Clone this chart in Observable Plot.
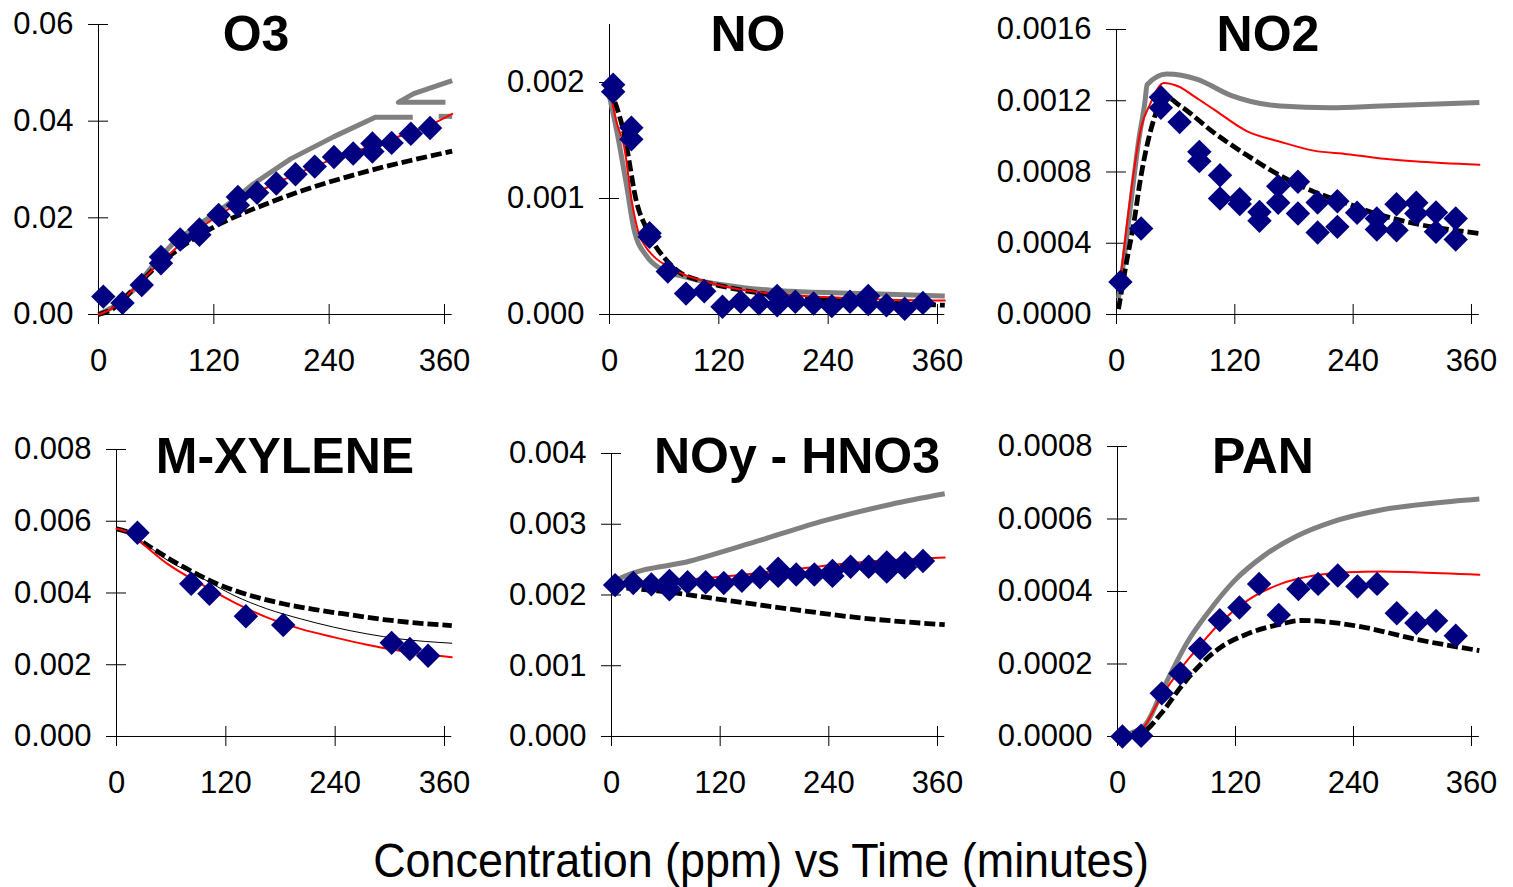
<!DOCTYPE html>
<html><head><meta charset="utf-8">
<script src="https://cdn.jsdelivr.net/npm/d3@7"></script>
<script src="https://cdn.jsdelivr.net/npm/@observablehq/plot@0.6"></script>
<style>
html,body{margin:0;padding:0;background:#fff;}
#wrap{position:relative;width:1513px;height:887px;overflow:hidden;font-family:"Liberation Sans",Arial,sans-serif;color:#000;}
.panel{position:absolute;}
.panel svg{overflow:visible;max-width:none;background:transparent;}
.title{position:absolute;font-weight:bold;font-size:50px;line-height:50px;white-space:nowrap;transform:translateX(-50%);}
.caption{position:absolute;font-size:48px;line-height:48px;white-space:nowrap;transform:translateX(-50%) scaleX(0.935);}
</style></head>
<body><div id="wrap"></div>
<script>
// ---------- tick values ----------
const xTicks = [0, 120, 240, 360];
const xMax = 368;
const o3Ticks = [0, 0.02, 0.04, 0.06];
const noTicks = [0, 0.001, 0.002];
const no2Ticks = [0, 0.0004, 0.0008, 0.0012, 0.0016];
const mxTicks = [0, 0.002, 0.004, 0.006, 0.008];
const noyTicks = [0, 0.001, 0.002, 0.003, 0.004];
const panTicks = [0, 0.0002, 0.0004, 0.0006, 0.0008];

// ---------- O3 ----------
const o3Obs = [[5,0.0037],[25,0.0024],[45,0.0061],[65,0.0119],[65,0.0106],[85,0.0155],[105,0.0176],[105,0.0165],[125,0.0206],[145,0.0243],[145,0.0226],[165,0.0252],[185,0.0271],[205,0.0290],[225,0.0306],[245,0.0326],[265,0.0333],[285,0.0354],[285,0.0337],[305,0.0355],[325,0.0374],[345,0.0386]];
const o3Red = [[0,0.0],[10,0.0008],[20,0.0022],[30,0.0040],[40,0.0060],[50,0.0080],[60,0.0100],[70,0.0118],[85,0.0145],[100,0.0170],[125,0.0205],[145,0.0230],[165,0.0252],[185,0.0272],[205,0.0290],[225,0.0307],[245,0.0322],[265,0.0336],[285,0.0349],[305,0.0363],[325,0.0377],[345,0.0392],[368,0.0415]];
const o3Dash = [[0,0],[15,0.0012],[30,0.0040],[45,0.0070],[60,0.0099],[80,0.0130],[100,0.0158],[120,0.0181],[150,0.0209],[180,0.0233],[210,0.0255],[240,0.0274],[270,0.0291],[300,0.0307],[330,0.0321],[368,0.0338]];
const o3GrayA = [[0,0],[15,0.0015],[36,0.0050],[60,0.0110],[78,0.0148],[100,0.0180],[120,0.0207],[140,0.0236],[161,0.0270],[200,0.0322],[245,0.0368],[288,0.0408],[327,0.0408]];
const o3GrayB = [[361,0.0439],[312,0.0439],[328,0.0457],[368,0.0484]];
const o3GrayC = [[354,0.0410],[368,0.0410]];

// ---------- NO ----------
const noObs = [[4,0.00198],[4,0.00192],[24,0.00161],[24,0.00151],[44,0.00070],[44,0.00067],[64,0.00037],[84,0.00018],[104,0.00020],[124,0.000066],[144,0.00011],[164,0.000095],[184,0.00016],[184,0.00008],[204,0.00011],[224,0.000095],[244,0.000072],[264,0.00011],[284,0.00016],[284,0.00009],[304,0.00008],[324,0.00005],[344,0.0001]];
const noRed = [[0,0.00195],[8,0.00165],[16,0.00145],[25,0.00095],[32,0.00070],[40,0.00058],[50,0.00049],[65,0.00041],[80,0.00035],[107,0.00028],[140,0.00022],[180,0.00018],[235,0.00015],[300,0.00013],[368,0.00012]];
const noDash = [[0,0.00195],[16,0.00156],[30,0.00096],[40,0.00075],[49,0.00061],[60,0.00049],[74,0.00038],[100,0.00029],[126,0.00024],[160,0.00019],[199,0.00015],[272,0.00011],[368,0.00008]];
const noGray = [[0,0.00188],[10,0.0015],[19,0.0011],[27,0.00073],[41,0.00050],[57,0.00039],[80,0.00033],[105,0.00028],[130,0.00025],[160,0.00022],[199,0.00020],[280,0.00018],[368,0.00016]];

// ---------- NO2 ----------
const no2Obs = [[4,0.000183],[25,0.000483],[45,0.00122],[45,0.00116],[64,0.00108],[84,0.000913],[84,0.000861],[105,0.000782],[105,0.000651],[125,0.000647],[125,0.00062],[145,0.000576],[145,0.000526],[164,0.00072],[164,0.000627],[184,0.000745],[184,0.000567],[204,0.000629],[204,0.00046],[224,0.000636],[224,0.000492],[244,0.000571],[264,0.000539],[264,0.000477],[284,0.000619],[284,0.000473],[304,0.000627],[304,0.000567],[324,0.000573],[324,0.000464],[344,0.000539],[344,0.000421]];
const no2Red = [[4,0.0002],[7,0.00034],[15,0.0007],[25,0.00105],[34,0.00118],[48,0.0013],[63,0.00128],[80,0.00122],[99,0.00115],[132,0.00103],[166,0.00097],[200,0.00092],[234,0.0009],[268,0.000876],[302,0.00086],[368,0.00084]];
const no2Dash = [[2,0.00003],[11,0.00032],[17.5,0.00051],[24,0.00075],[34.5,0.00103],[50,0.00122],[65,0.00117],[99,0.00102],[132,0.000895],[166,0.00078],[200,0.00069],[234,0.000623],[268,0.000558],[302,0.000511],[368,0.000455]];
const no2Gray = [[2,0.00009],[7,0.000285],[14,0.0006],[22.6,0.00098],[29,0.0012],[31,0.00129],[51,0.00135],[82,0.00132],[116,0.00123],[166,0.00117],[217,0.00116],[268,0.00117],[368,0.00119]];

// ---------- M-XYLENE ----------
const mxObs = [[23,0.00568],[82,0.00426],[102,0.00398],[142,0.00335],[183,0.00311],[302,0.00261],[322,0.00244],[342,0.00225]];
const mxRed = [[0,0.00579],[10,0.00572],[26,0.00542],[56,0.00481],[92,0.00426],[129,0.00374],[165,0.00332],[202,0.0030],[238,0.00277],[275,0.00256],[311,0.00239],[368,0.00221]];
const mxDash = [[0,0.00579],[10,0.00572],[37,0.00528],[74,0.00472],[110,0.00426],[147,0.00393],[183,0.0037],[220,0.00353],[257,0.00339],[293,0.00326],[368,0.00309]];
const mxThin = [[0,0.00579],[10,0.00572],[30,0.0054],[56,0.00491],[92,0.00444],[129,0.00393],[165,0.00356],[202,0.00328],[238,0.00305],[275,0.00286],[311,0.00272],[368,0.0026]];

// ---------- NOy - HNO3 ----------
const noyObs = [[4,0.00214],[24,0.00217],[44,0.00215],[64,0.0022],[64,0.00208],[84,0.00218],[104,0.00218],[124,0.00217],[144,0.0022],[164,0.00225],[184,0.00237],[184,0.00227],[204,0.00229],[224,0.00229],[244,0.00234],[244,0.00227],[264,0.0024],[284,0.0024],[304,0.00246],[304,0.00233],[324,0.00245],[324,0.00239],[344,0.00248]];
const noyRed = [[0,0.00214],[40,0.00217],[87,0.00222],[140,0.00228],[198,0.00236],[272,0.00246],[320,0.0025],[368,0.00253]];
const noyDash = [[0,0.00211],[50,0.00206],[124,0.00193],[198,0.0018],[272,0.00168],[368,0.00158]];
const noyGray = [[0,0.00216],[12,0.00225],[87,0.00248],[161,0.00276],[235,0.00305],[308,0.00328],[368,0.00343]];

// ---------- PAN ----------
const panObs = [[5,0.0],[24,0.000002],[45,0.000119],[64,0.000174],[84,0.000243],[104,0.000321],[124,0.000356],[144,0.000421],[164,0.000335],[184,0.000407],[204,0.000421],[224,0.000444],[244,0.000414],[264,0.000421],[284,0.00034],[304,0.000313],[324,0.000319],[344,0.000278]];
const panRed = [[0,0],[15,0.000003],[24,0.000016],[44,0.000108],[64,0.000186],[85,0.000255],[105,0.000315],[132,0.000375],[166,0.000421],[200,0.000444],[234,0.000453],[268,0.000455],[302,0.000453],[368,0.000446]];
const panDash = [[0,0.000006],[24,0.000011],[44,0.000062],[64,0.000135],[85,0.0002],[105,0.000246],[132,0.000283],[166,0.00031],[186,0.00032],[217,0.000315],[251,0.000301],[302,0.000269],[368,0.000237]];
const panGray = [[0,0],[27,0.000029],[47,0.000135],[71,0.00026],[91,0.000338],[119,0.00043],[149,0.000499],[183,0.000554],[217,0.000591],[268,0.000625],[319,0.000643],[368,0.000655]];

// ---------- layout (pixel placement of each panel's axes) ----------
const panels = [
  {title:"O3", cx:256, tb:51, x0:98, x360:444, yTop:24, y0:314, max:0.06, ticks:o3Ticks, fmt:2,
   obs:o3Obs, red:[o3Red], dash:[o3Dash], gray:[o3GrayA,o3GrayB,o3GrayC], thin:[], grayCurve:"linear"},
  {title:"NO", cx:748, tb:51, x0:609, x360:937, yTop:24, y0:314, max:0.0025, ticks:noTicks, fmt:3,
   obs:noObs, red:[noRed], dash:[noDash], gray:[noGray], thin:[]},
  {title:"NO2", cx:1268, tb:51, x0:1116, x360:1471, yTop:29, y0:314, max:0.0016, ticks:no2Ticks, fmt:4,
   obs:no2Obs, red:[no2Red], dash:[no2Dash], gray:[no2Gray], thin:[]},
  {title:"M-XYLENE", cx:285, tb:473, x0:116, x360:444, yTop:449, y0:736, max:0.008, ticks:mxTicks, fmt:3,
   obs:mxObs, red:[mxRed], dash:[mxDash], gray:[], thin:[mxThin]},
  {title:"NOy - HNO3", cx:797, tb:473, x0:611, x360:937, yTop:453, y0:736, max:0.004, ticks:noyTicks, fmt:3,
   obs:noyObs, red:[noyRed], dash:[noyDash], gray:[noyGray], thin:[]},
  {title:"PAN", cx:1263, tb:473, x0:1117, x360:1471, yTop:446, y0:736, max:0.0008, ticks:panTicks, fmt:4,
   obs:panObs, red:[panRed], dash:[panDash], gray:[panGray], thin:[]}
];

const wrap = document.getElementById("wrap");
const FONT = '"Liberation Sans", Arial, sans-serif';

for (const p of panels) {
  const mL = 95, mR = 12, mT = 12, mB = 72;
  const plotW = (p.x360 - p.x0) * xMax / 360;
  const width = mL + plotW + mR;
  const height = mT + (p.y0 - p.yTop) + mB;
  const X = d => d[0], Y = d => d[1];
  const marks = [
    Plot.ruleX([0], {stroke: "#000", strokeWidth: 1}),
    Plot.ruleY([0], {stroke: "#000", strokeWidth: 1}),
    Plot.axisY(p.ticks, {tickSize: 20, dx: 10, tickPadding: 15, tickFormat: d => d.toFixed(p.fmt), fontSize: 31}),
    Plot.axisX(xTicks, {tickSize: 20, dy: -10, tickPadding: 24, tickFormat: d => String(d), fontSize: 31})
  ];
  for (const g of p.gray) marks.push(Plot.line(g, {x: X, y: Y, stroke: "#808080", strokeWidth: 5, strokeLinejoin: "round", strokeLinecap: "butt", curve: p.grayCurve || "monotone-x"}));
  for (const g of p.dash) marks.push(Plot.line(g, {x: X, y: Y, stroke: "#000", strokeWidth: 4.8, strokeDasharray: "11,4", strokeLinecap: "butt", curve: "monotone-x"}));
  for (const g of p.thin) marks.push(Plot.line(g, {x: X, y: Y, stroke: "#000", strokeWidth: 1, curve: "monotone-x"}));
  for (const g of p.red) marks.push(Plot.line(g, {x: X, y: Y, stroke: "#ff0000", strokeWidth: 2, curve: "monotone-x"}));
  marks.push(Plot.dot(p.obs, {x: X, y: Y, symbol: "diamond2", r: 11, fill: "#000080", stroke: "none"}));

  const chart = Plot.plot({
    width, height,
    marginLeft: mL, marginRight: mR, marginTop: mT, marginBottom: mB,
    style: {fontFamily: FONT, fontSize: "31px", color: "#000", background: "transparent", overflow: "visible"},
    x: {domain: [0, xMax], axis: null},
    y: {domain: [0, p.max], axis: null},
    marks
  });
  const div = document.createElement("div");
  div.className = "panel";
  div.style.left = (p.x0 - mL) + "px";
  div.style.top = (p.yTop - mT) + "px";
  div.appendChild(chart);
  wrap.appendChild(div);

  const t = document.createElement("div");
  t.className = "title";
  t.textContent = p.title;
  t.style.left = p.cx + "px";
  t.style.top = (p.tb - 42.3) + "px";
  wrap.appendChild(t);
}

const cap = document.createElement("div");
cap.className = "caption";
cap.textContent = "Concentration (ppm) vs Time (minutes)";
cap.style.left = "761px";
cap.style.top = (878 - 40.6) + "px";
wrap.appendChild(cap);
</script>
</body></html>
